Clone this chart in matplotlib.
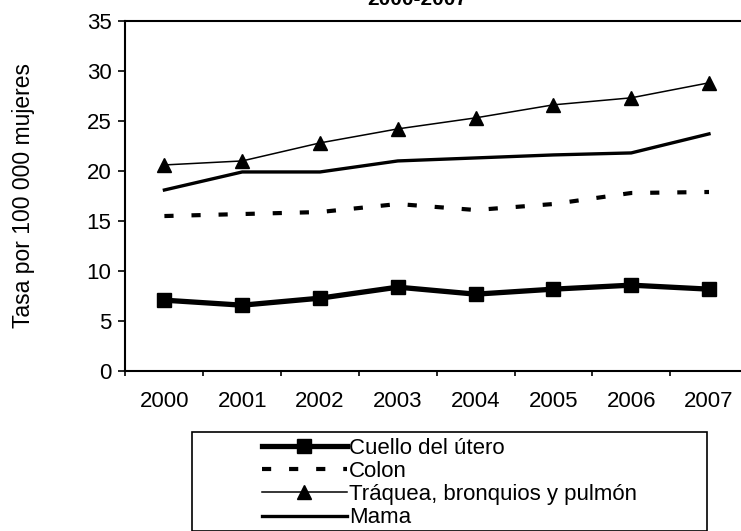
import numpy as np
import matplotlib
matplotlib.use('Agg')
import matplotlib.pyplot as plt
from matplotlib.patches import Rectangle

plt.rcParams['font.family'] = ['Liberation Sans', 'DejaVu Sans']

years = ['2000', '2001', '2002', '2003', '2004', '2005', '2006', '2007']
cuello = [7.1, 6.6, 7.3, 8.4, 7.7, 8.2, 8.6, 8.2]
colon = [15.5, 15.7, 15.9, 16.7, 16.1, 16.7, 17.8, 17.9]
traquea = [20.6, 21.0, 22.8, 24.2, 25.3, 26.6, 27.3, 28.8]
mama = [18.1, 19.9, 19.9, 21.0, 21.3, 21.6, 21.8, 23.7]

W, H = 741, 531
fig = plt.figure(figsize=[W / 100, H / 100], dpi=100)
ax = fig.add_axes([125.5 / W, (H - 371.3) / H, (W - 125.5) / W, (371.3 - 20.7) / H])

x = np.arange(len(years))
l1, = ax.plot(x, cuello, color='black', lw=3.8, marker='s', ms=10.5, label='Cuello del útero')
l2, = ax.plot(x, colon, color='black', lw=3, dashes=(2.2, 4.3), label='Colon')
l3, = ax.plot(x, traquea, color='black', lw=1.1, marker='^', ms=10, label='Tráquea, bronquios y pulmón')
l4, = ax.plot(x, mama, color='black', lw=2.4, label='Mama')

ax.set_xlim(-0.5, (W - 125.5) / 77.8 - 0.5)
ax.set_ylim(0, 35)
ax.set_yticks(np.arange(0, 36, 5))
ax.set_xticks(np.arange(len(years)) - 0.5)
ax.set_xticklabels([])
ax.set_xticks(x, minor=True)
ax.set_xticklabels(years, minor=True)
ax.tick_params(axis='x', which='major', direction='out', length=3.5, width=1.2)
ax.tick_params(axis='x', which='minor', length=0, pad=14, labelsize=16)
ax.tick_params(axis='y', direction='out', length=5, width=1.2, pad=5, labelsize=16)
ax.spines['right'].set_visible(False)
for s in ['left', 'bottom', 'top']:
    ax.spines[s].set_linewidth(1.5)
ax.set_ylabel('Tasa por 100 000 mujeres', fontsize=16.5)
ax.yaxis.set_label_coords((24 - 125.5) / (W - 125.5), 0.5)
ax.yaxis.label.set_va('center')

fig.text(417 / W, (H - 9) / H, '2000-2007', ha='center', va='bottom', fontsize=15, fontweight='bold')

# legend box
fig.patches.append(Rectangle((192 / W, 0), (707 - 192) / W, (H - 432) / H, transform=fig.transFigure,
                             fill=False, edgecolor='black', lw=1.2))
fig.legend(handles=[l1, l2, l3, l4], loc='center', bbox_to_anchor=(449.5 / W, (H - 483) / H),
           frameon=False, fontsize=16, handlelength=3.8, handletextpad=0.1,
           labelspacing=0.1, borderpad=0)

fig.savefig('out.png', dpi=100)
